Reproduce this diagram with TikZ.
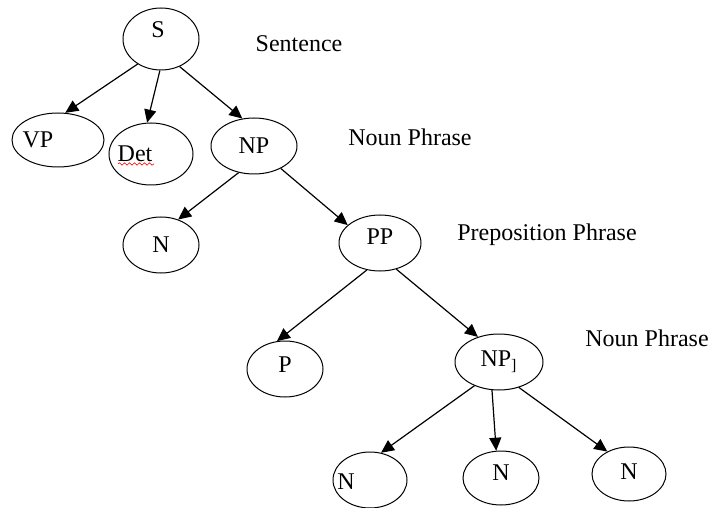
\documentclass[tikz,border=0pt]{standalone}
\usepackage{fontspec}
\setmainfont{Liberation Serif}
\usetikzlibrary{arrows.meta,shapes.geometric,decorations.pathmorphing}

\tikzset{
  cat/.style={draw,ellipse,inner sep=0pt,line width=0.5pt,font=\fontsize{12}{14}\selectfont},
  gloss/.style={font=\fontsize{12}{14}\selectfont},
}

\begin{document}
\begin{tikzpicture}[x=0.5pt,y=-0.5pt,>={Triangle[length=6.5pt,width=6pt]},line width=0.6pt]
  \useasboundingbox (0,0) rectangle (713,508);
  % Sentence level
  \node[cat,minimum width=38pt,minimum height=31pt,label={[gloss,xshift=-1.5pt,yshift=4.5pt]center:S}] (s) at (161,39) {};
  \node[cat,minimum width=46pt,minimum height=27pt,label={[gloss,xshift=-10pt]center:VP}] (vp) at (58,140) {};
  \node[cat,minimum width=42pt,minimum height=31pt,label={[gloss,xshift=-8pt]center:Det}] (det) at (151,154) {};
  \node[cat,minimum width=43pt,minimum height=28pt] (np) at (254,146) {NP};
  % Noun phrase
  \node[cat,minimum width=38pt,minimum height=28pt] (n) at (161,245) {N};
  \node[cat,minimum width=41pt,minimum height=28pt,label={[gloss,yshift=3pt]center:PP}] (pp) at (380,243) {};
  % Preposition phrase
  \node[cat,minimum width=38pt,minimum height=28pt,label={[gloss,yshift=2pt]center:P}] (p) at (285,369) {};
  \node[cat,minimum width=44pt,minimum height=28pt] (npi) at (499,362) {NP\textsubscript{]}};
  % Bottom nouns
  \node[cat,minimum width=37pt,minimum height=28pt,label={[gloss,xshift=-12pt,yshift=-1pt]center:N}] (na) at (370,480) {};
  \node[cat,minimum width=38pt,minimum height=27pt,label={[gloss,yshift=2.5pt]center:N}] (nb) at (501,478) {};
  \node[cat,minimum width=37pt,minimum height=27pt,label={[gloss,yshift=1pt]center:N}] (nc) at (629,474) {};
  % Glosses
  \node[gloss] (sent) at (299,44) {Sentence};
  \node[gloss] (npgloss) at (410,137) {Noun Phrase};
  \node[gloss] (ppgloss) at (547,235) {Preposition Phrase};
  \node[gloss] (npigloss) at (647,338) {Noun Phrase};
  % Spelling mark under Det
  \draw[red,line width=0.3pt,decorate,decoration={snake,amplitude=0.6pt,segment length=2.5pt}] (118,164) -- (154,164);
  % Arrows
  \draw[->] (s.227) -- (vp.75);
  \draw[->] (s.268) -- (det.97);
  \draw[->] (s.304) -- (np.113);
  \draw[->] (np.240) -- (n.56);
  \draw[->] (np.320) -- (pp.151);
  \draw[->] (pp.244) -- (p.106);
  \draw[->] (pp.302) -- (npi.130);
  \draw[->] (npi.224) -- (na.68);
  \draw[->] (npi.256) -- (nb.100);
  \draw[->] (npi.308) -- (nc.134);
\end{tikzpicture}
\end{document}
